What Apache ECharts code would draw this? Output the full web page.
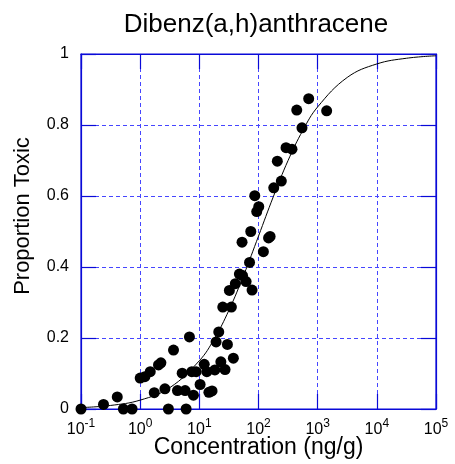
<!DOCTYPE html>
<html>
<head>
<meta charset="utf-8">
<script src="https://cdn.jsdelivr.net/npm/echarts@6/dist/echarts.min.js"></script>
<style>
  body { margin: 0; background: #fff; }
  #chart { width: 455px; height: 464px; }
</style>
</head>
<body>
<div id="chart"></div>
<script>
// measured points (concentration in ng/g, proportion toxic)
const conc = [0.1, 0.24, 0.41, 0.52, 0.73, 1.0, 1.2, 1.48, 2.04, 2.24, 1.73, 2.62, 3.0, 3.66, 4.27,
  5.13, 5.75, 5.98, 6.8, 7.47, 7.95, 8.83, 10.3, 12.1, 13.4, 14.5, 16.4, 18.3, 19.2, 21.3,
  23.1, 27.2, 29.8, 37.6, 24.9, 34.8, 32.2, 40.6, 47.5, 53.8, 61.7, 77.8, 70.6, 52.7, 74.0,
  121, 148, 157, 93.4, 86.5, 101, 181, 243, 208, 292, 368, 543, 443, 705, 1419];
const prop = [0, 0.013, 0.034, 0, 0, 0.087, 0.091, 0.105, 0.124, 0.130, 0.046, 0.057, 0, 0.166, 0.052,
  0.101, 0.052, 0, 0.203, 0.105, 0.039, 0.105, 0.069, 0.126, 0.105, 0.047, 0.051, 0.110, 0.189, 0.217,
  0.133, 0.111, 0.182, 0.143, 0.287, 0.287, 0.334, 0.353, 0.380, 0.376, 0.359, 0.335, 0.413, 0.470, 0.500,
  0.443, 0.482, 0.486, 0.556, 0.601, 0.570, 0.623, 0.642, 0.698, 0.736, 0.732, 0.792, 0.842, 0.874, 0.840];

// fitted curve
const fitConc = [0.1, 0.316, 1, 3.16, 10, 17.8, 31.6, 56.2, 100, 178, 316, 562, 1000, 3160, 10000, 31600, 100000];
const fitProp = [0.004, 0.010, 0.025, 0.060, 0.136, 0.197, 0.278, 0.377, 0.487, 0.598, 0.700, 0.785, 0.851, 0.934, 0.972, 0.988, 0.995];

const xTickExp = [-1, 0, 1, 2, 3, 4, 5];
const yTicks = [0, 0.2, 0.4, 0.6, 0.8, 1];

const blue = '#0a0ad8';
const gridBlue = '#4646ff';
const font = 'Liberation Sans, Arial, sans-serif';

const chart = echarts.init(document.getElementById('chart'));

// the dashed grid, same on every axis so overlapping lines match
const dashed = () => ({ show: true, lineStyle: { color: [gridBlue], type: [4, 3], width: 1 } });

const xBase = () => ({
  type: 'log',
  logBase: 10,
  min: Math.pow(10, xTickExp[0]),
  max: Math.pow(10, xTickExp[xTickExp.length - 1]),
  axisLine: { show: true, onZero: false, lineStyle: { color: blue, width: 1.2 } },
  axisTick: { show: true, inside: true, length: 15, lineStyle: { color: blue, width: 1.2 } },
  minorTick: { show: false },
  minorSplitLine: { show: false },
  splitArea: { show: false },
  splitLine: dashed()
});
const yBase = () => ({
  type: 'value',
  min: yTicks[0],
  max: yTicks[yTicks.length - 1],
  interval: 0.2,
  axisLine: { show: true, onZero: false, lineStyle: { color: blue, width: 1.2 } },
  axisTick: { show: true, inside: true, length: 15, lineStyle: { color: blue, width: 1.2 } },
  splitArea: { show: false },
  splitLine: dashed()
});

const option = {
  backgroundColor: '#fff',
  animation: false,
  grid: {
    left: 81, right: 19, top: 54, bottom: 55, outerBoundsMode: 'none',
    show: true, borderColor: blue, borderWidth: 1.2, backgroundColor: 'transparent'
  },
  graphic: [
    {
      type: 'text', x: 256, y: 25,
      style: { text: 'Dibenz(a,h)anthracene', fontSize: 26, fontFamily: font, fill: '#000', align: 'center', verticalAlign: 'middle' }
    },
    {
      type: 'text', x: 22.5, y: 216, rotation: Math.PI / 2,
      style: { text: 'Proportion Toxic', fontSize: 22, fontFamily: font, fill: '#000', align: 'center', verticalAlign: 'middle' }
    }
  ],
  xAxis: [
    Object.assign(xBase(), {
      position: 'bottom',
      name: 'Concentration (ng/g)',
      nameLocation: 'middle',
      nameGap: 27,
      nameMoveOverlap: false,
      nameTextStyle: { fontSize: 23, fontFamily: font, color: '#000', verticalAlign: 'top' },
      axisLabel: {
        margin: 9,
        color: '#000',
        formatter: function (v) {
          return '{b|10}{s|' + Math.round(Math.log10(v)) + '}';
        },
        rich: {
          b: { fontSize: 16, fontFamily: font, color: '#000', lineHeight: 20, verticalAlign: 'bottom' },
          s: { fontSize: 12, fontFamily: font, color: '#000', lineHeight: 12, verticalAlign: 'top' }
        }
      }
    }),
    Object.assign(xBase(), { position: 'top', axisLabel: { show: false } })
  ],
  yAxis: [
    Object.assign(yBase(), {
      position: 'left',
      axisLabel: { margin: 12, fontSize: 16, fontFamily: font, color: '#000' }
    }),
    Object.assign(yBase(), { position: 'right', axisLabel: { show: false } })
  ],
  series: [
    {
      type: 'line',
      data: fitConc.map((c, i) => [c, fitProp[i]]),
      smooth: 0.4,
      showSymbol: false,
      lineStyle: { color: '#000', width: 1 },
      z: 2
    },
    {
      type: 'scatter',
      data: conc.map((c, i) => [c, prop[i]]),
      symbol: 'circle',
      symbolSize: 11,
      itemStyle: { color: '#000', opacity: 1 },
      clip: false,
      z: 3
    }
  ]
};

chart.setOption(option);
</script>
</body>
</html>
